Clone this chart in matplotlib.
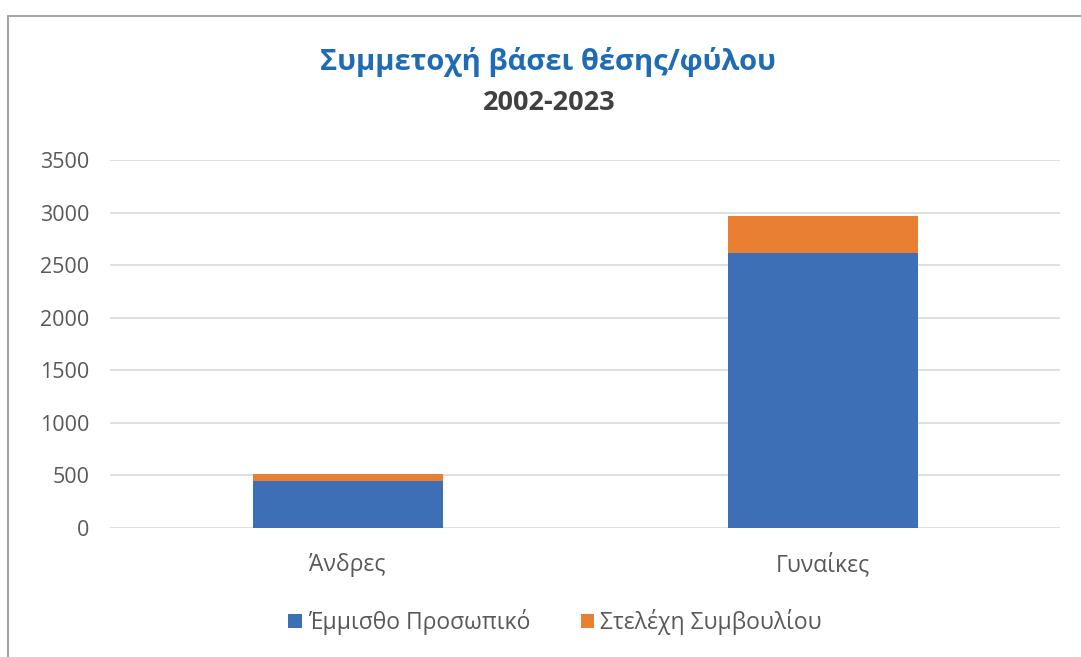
import matplotlib
matplotlib.use('Agg')
import matplotlib.pyplot as plt
from matplotlib.patches import Rectangle
import numpy as np

# Δεδομένα
kathgories = ['Άνδρες', 'Γυναίκες']
emmistho = [450, 2615]
stelexi = [65, 355]
yticks = [0, 500, 1000, 1500, 2000, 2500, 3000, 3500]

plt.rcParams['font.family'] = ['Open Sans', 'DejaVu Sans']

fig = plt.figure(figsize=(10.81, 6.57), dpi=100)
ax = fig.add_axes([110 / 1081, 1 - 528 / 657, 950 / 1081, 368 / 657])

x = np.arange(len(kathgories))
blue = '#3D6FB6'
orange = '#E97F33'
ax.bar(x, emmistho, width=0.4, color=blue, label='Έμμισθο Προσωπικό', zorder=3)
ax.bar(x, stelexi, width=0.4, bottom=emmistho, color=orange,
       label='Στελέχη Συμβουλίου', zorder=3)

ax.set_xlim(-0.5, 1.5)
ax.set_ylim(0, 3500)
ax.set_yticks(yticks)
ax.set_xticks(x)
ax.set_xticklabels(kathgories)
ax.grid(axis='y', color='#D9D9D9', linewidth=1.2, zorder=0)
for s in ax.spines.values():
    s.set_visible(False)
ax.tick_params(length=0, labelsize=15.5, labelcolor='#595959')
ax.tick_params(axis='x', labelsize=16.5, pad=18)
ax.tick_params(axis='y', pad=15)

# τίτλοι
fig.text(548 / 1081, 1 - 62 / 657, 'Συμμετοχή βάσει θέσης/φύλου', ha='center', va='center',
         fontsize=21, fontweight='bold', color='#1F6CB4')
fig.text(549 / 1081, 1 - 103 / 657, '2002-2023', ha='center', va='center',
         fontsize=19.5, fontweight='bold', color='#404040')

leg = fig.legend(loc='center', bbox_to_anchor=(555 / 1081, 1 - 622 / 657), ncol=2,
                 frameon=False, fontsize=16.5, handlelength=0.6, handleheight=0.6,
                 handletextpad=0.25, columnspacing=2.2)
for t in leg.get_texts():
    t.set_color('#595959')

# πλαίσιο
fig.patches.append(Rectangle((8 / 1081, -0.1), 1.2, 1.1 - 16 / 657, transform=fig.transFigure,
                             fill=False, edgecolor='#A6A6A6', linewidth=1.5))

fig.savefig('out.png', dpi=100)
